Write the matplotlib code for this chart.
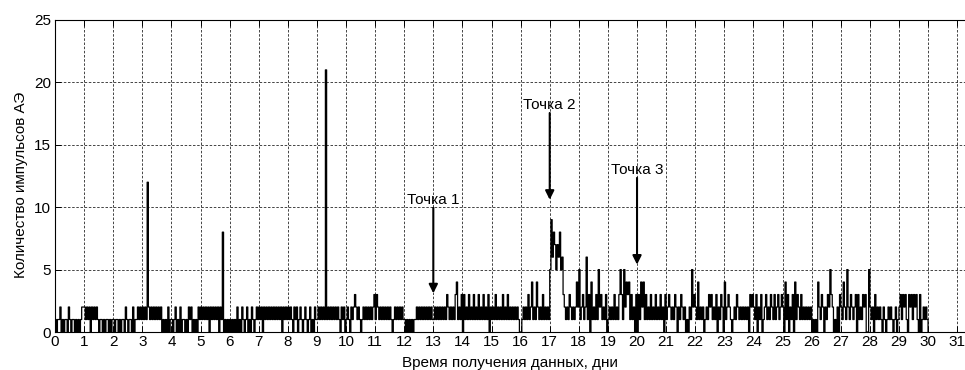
import numpy as np
import matplotlib
matplotlib.use('Agg')
import matplotlib.pyplot as plt

plt.rcParams['font.family'] = ['Liberation Sans', 'DejaVu Sans']

# hourly pulse counts, one string per day (digit = count in that hour)
day_counts = [
    '101120101102101101010122',  # day 0
    '212120212121011010110101',
    '101101011021011020112121',
    '212112121212121201010201',
    '101201020110102120101021',
    '212121202121212021201010',  # day 5
    '101010201021012010210121',
    '212021212121212121202121',
    '212102120121012101201021',
    '121212121212121212102120',
    '121021232121012121212123',  # day 10
    '132121212121210121212121',
    '101010101121212121212121',
    '121212121213212121341213',
    '031213121312131213121302',
    '121312121312131212121210',  # day 15
    '012121312412142121312121',
    '596875768563212132121242',
    '512312613041213152312130',
    '121213121353152434131203',
    '031424131213121312131203',  # day 20
    '123212132021321201021523',
    '214121201213231213021320',
    '412321012132121212120323',
    '213021301231213213123123',
    '204130213041321312121212',  # day 25
    '010104213202132532010203',
    '214215213212303121323005',
    '212031212102101212101201',
    '231323103231323103012121',
    '0',                         # end of record, day 30
]

# isolated large bursts
spike_days = [3.17, 5.76, 9.28]
spike_counts = [12, 8, 21]

points = [
    {'label': 'Точка 1', 'day': 13.0, 'text_y': 10.25, 'tip_y': 3.1},
    {'label': 'Точка 2', 'day': 17.0, 'text_y': 17.85, 'tip_y': 10.6},
    {'label': 'Точка 3', 'day': 20.0, 'text_y': 12.65, 'tip_y': 5.4},
]

times = []
counts = []
for day, s in enumerate(day_counts):
    for i, ch in enumerate(s):
        times.append(day + i / len(s))
        counts.append(int(ch))
times = np.array(times)
counts = np.array(counts)

for d, c in zip(spike_days, spike_counts):
    counts[np.argmin(np.abs(times - d))] = c

fig = plt.figure(figsize=(9.65, 3.70), dpi=100)
ax = fig.add_axes([55 / 965, 38 / 370, 910 / 965, 312 / 370])

ax.plot(times, counts, color='black', linewidth=0.9, drawstyle='steps-post')

for p in points:
    ax.annotate('', xy=(p['day'], p['tip_y']), xytext=(p['day'], p['text_y'] - 0.3),
                arrowprops=dict(arrowstyle='-|>', color='black', lw=1.5,
                                mutation_scale=13, shrinkA=0, shrinkB=0))
    ax.text(p['day'], p['text_y'], p['label'], ha='center', va='baseline', fontsize=11)

ax.set_xlim(0, 31.27)
ax.set_ylim(0, 25)
ax.set_xticks(range(0, 32))
ax.set_yticks(range(0, 26, 5))
ax.grid(True, linestyle=(0, (3, 2)), color='0.15', linewidth=0.6)
ax.set_axisbelow(True)
ax.tick_params(direction='in', top=True, length=4, width=0.7, labelsize=11)
ax.tick_params(axis='x', pad=2)
ax.tick_params(axis='y', pad=3)
ax.spines['right'].set_visible(False)
for side in ['left', 'top', 'bottom']:
    ax.spines[side].set_linewidth(0.8)

ax.set_xlabel('Время получения данных, дни', fontsize=11, va='baseline')
ax.xaxis.set_label_coords(0.5, -0.113)
ax.set_ylabel('Количество импульсов АЭ', fontsize=11, va='center')
ax.yaxis.set_label_coords(-0.0376, 0.473)

plt.savefig('out.png', dpi=100)
